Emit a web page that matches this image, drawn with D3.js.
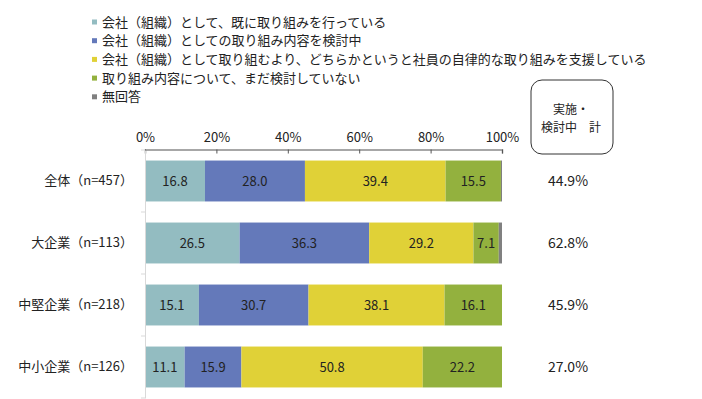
<!DOCTYPE html>
<html>
<head>
<meta charset="utf-8">
<script src="https://cdn.jsdelivr.net/npm/d3@7"></script>
<style>
  body { margin: 0; background: #fff; }
  svg { display: block; font-family: "Noto Sans CJK JP", "Noto Sans", sans-serif; }
</style>
</head>
<body>
<div id="chart"></div>
<script>
const w = 702;
const h = 399;

// data
const categories = ['全体（n=457）', '大企業（n=113）', '中堅企業（n=218）', '中小企業（n=126）'];
const seriesNames = [
  '会社（組織）として、既に取り組みを行っている',
  '会社（組織）としての取り組み内容を検討中',
  '会社（組織）として取り組むより、どちらかというと社員の自律的な取り組みを支援している',
  '取り組み内容について、まだ検討していない',
  '無回答'
];
const doing = [16.8, 26.5, 15.1, 11.1];
const considering = [28.0, 36.3, 30.7, 15.9];
const supporting = [39.4, 29.2, 38.1, 50.8];
const notYet = [15.5, 7.1, 16.1, 22.2];
const noAnswer = [0.3, 0.9, 0.0, 0.0];
const totals = ['44.9%', '62.8%', '45.9%', '27.0%'];
const tickValues = [0, 20, 40, 60, 80, 100];
const boxLines = ['実施・', '検討中　計'];

const colors = ['#93bcc1', '#6479ba', '#e0d137', '#93b13e', '#808080'];
const seriesValues = [doing, considering, supporting, notYet, noAnswer];

const rows = categories.map((c, i) => {
  const row = {cat: c};
  seriesValues.forEach((s, k) => row['s' + k] = s[i]);
  return row;
});
const keys = seriesValues.map((s, k) => 's' + k);

const svg = d3.select('#chart').
append('svg').
attr('width', w).
attr('height', h);

const xScale = d3.scaleLinear().
domain([0, 100]).
range([145, 502]);

const yScale = d3.scaleBand().
domain(categories).
range([150, 398]).
paddingInner(0.34).
paddingOuter(0.17);

// legend
const legend = svg.append('g').attr('transform', 'translate(92,0)');
seriesNames.forEach((name, k) => {
  const ly = 22 + k * 18.7;
  legend.append('rect').
  attr('x', 0).
  attr('y', ly - 2.5).
  attr('width', 5).
  attr('height', 5).
  attr('fill', colors[k]);
  legend.append('text').
  attr('x', 10).
  attr('y', ly).
  attr('dy', '0.35em').
  attr('font-size', 13).
  attr('fill', '#222').
  text(name);
});

// stacked bars
const stacked = d3.stack().keys(keys)(rows);

const layers = svg.selectAll('g.layer').
data(stacked).
enter().
append('g').
attr('class', 'layer').
attr('fill', (d, k) => colors[k]);

layers.selectAll('rect').
data(d => d).
enter().
append('rect').
attr('x', d => xScale(d[0])).
attr('y', d => yScale(d.data.cat)).
attr('width', d => xScale(d[1]) - xScale(d[0])).
attr('height', yScale.bandwidth());

layers.filter((d, k) => k < 4).
selectAll('text').
data(d => d).
enter().
append('text').
attr('x', d => (xScale(d[0]) + xScale(d[1])) / 2).
attr('y', d => yScale(d.data.cat) + yScale.bandwidth() / 2).
attr('dy', '0.35em').
attr('text-anchor', 'middle').
attr('font-size', 13).
attr('fill', '#222').
text(d => (d[1] - d[0]).toFixed(1));

// top axis
const xAxis = d3.axisTop(xScale).
tickValues(tickValues).
tickFormat(d => d + '%').
tickSizeInner(-4).
tickSizeOuter(-4).
tickPadding(8);

const gx = svg.append('g').
attr('transform', 'translate(0,' + 149.5 + ')').
call(xAxis);
gx.select('.domain').attr('stroke', '#8a8a8a').attr('stroke-width', 1.5);
gx.selectAll('.tick line').attr('stroke', '#555');
gx.selectAll('.tick text').
attr('font-size', 13).
attr('fill', '#222').
attr('font-family', '"Noto Sans CJK JP", sans-serif');

// left axis
const yAxis = d3.axisLeft(yScale).tickSize(0).tickPadding(12);
const gy = svg.append('g').
attr('transform', 'translate(145,0)').
call(yAxis);
gy.select('.domain').attr('stroke', '#d9d9d9');
gy.selectAll('.tick text').
attr('font-size', 13).
attr('fill', '#222').
attr('font-family', '"Noto Sans CJK JP", sans-serif');

gy.selectAll('line.sep').
data(d3.range(categories.length + 1)).
enter().
append('line').
attr('class', 'sep').
attr('x1', -4).
attr('x2', 0).
attr('y1', i => yScale.range()[0] + i * yScale.step()).
attr('y2', i => yScale.range()[0] + i * yScale.step()).
attr('stroke', '#d9d9d9');

// totals column
const colX = 568;
svg.append('rect').
attr('x', 531).
attr('y', 80).
attr('width', 82).
attr('height', 74).
attr('rx', 11).
attr('fill', 'none').
attr('stroke', '#333').
attr('stroke-width', 1);

boxLines.forEach((t, i) => {
  svg.append('text').
  attr('x', colX + 3).
  attr('y', 110 + i * 18).
  attr('dy', '0.35em').
  attr('text-anchor', 'middle').
  attr('font-size', 12).
  attr('fill', '#222').
  text(t);
});

svg.selectAll('text.total').
data(totals).
enter().
append('text').
attr('class', 'total').
attr('x', colX).
attr('y', (d, i) => yScale(categories[i]) + yScale.bandwidth() / 2).
attr('dy', '0.35em').
attr('text-anchor', 'middle').
attr('font-size', 14).
attr('fill', '#222').
text(d => d);
</script>
</body>
</html>
